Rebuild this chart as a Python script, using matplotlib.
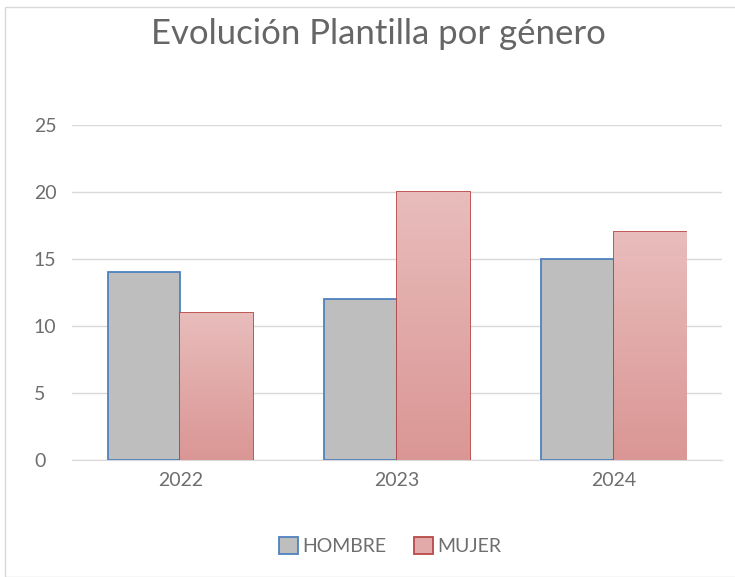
import numpy as np
import matplotlib.pyplot as plt
from matplotlib.patches import Rectangle
from matplotlib.colors import LinearSegmentedColormap

years = ["2022", "2023", "2024"]
hombre = [14, 12, 15]
mujer = [11, 20, 17]
yticks = [0, 5, 10, 15, 20, 25]

plt.rcParams['font.family'] = ['Lato', 'DejaVu Sans']
txt = '#6E6E6E'

fig = plt.figure(figsize=(7.35, 5.77), dpi=100)
fig.patches.append(Rectangle((5 / 735, 0), 1, 1 - 7 / 577, transform=fig.transFigure,
                             fill=False, edgecolor='#D9D9D9', linewidth=1))
ax = fig.add_axes([72 / 735, 1 - 460 / 577, 650 / 735, 335 / 577])

x = np.arange(len(years))
w = 0.336
b1 = ax.bar(x - w / 2, hombre, w, color='#BEBEBE', edgecolor='#4F81BD', linewidth=1.3, label='HOMBRE', zorder=3)
b2 = ax.bar(x + w / 2, mujer, w, color='#E2ABAA', edgecolor='#B84A47', linewidth=1.3, label='MUJER', zorder=3)

# vertical gradient on the MUJER bars
cmap = LinearSegmentedColormap.from_list('pink', ['#DA9694', '#E8BDBC'])
grad = np.linspace(0, 1, 256).reshape(-1, 1)
for bar in b2:
    x0, y0 = bar.get_x(), bar.get_y()
    im = ax.imshow(grad, extent=[x0, x0 + bar.get_width(), y0, y0 + bar.get_height()],
                   cmap=cmap, origin='lower', aspect='auto', zorder=3)
    im.set_clip_path(bar)

ax.set_xlim(-0.5, 2.5)
ax.set_ylim(0, 25)
ax.set_xticks(x)
ax.set_xticklabels(years)
ax.set_yticks(yticks)
ax.yaxis.grid(True, color='#D9D9D9', linewidth=1, zorder=0)
for s in ['top', 'right', 'left']:
    ax.spines[s].set_visible(False)
ax.spines['bottom'].set_color('#D9D9D9')
ax.tick_params(length=0, colors=txt, labelsize=14, pad=9)
ax.tick_params(axis='y', pad=27.4)
for lab in ax.get_yticklabels():
    lab.set_ha('left')

fig.text(378 / 735, 1 - 34 / 577, 'Evolución Plantilla por género', ha='center', va='center',
         fontsize=25, color='#666666')
fig.legend(handles=[b1, b2], loc='center', bbox_to_anchor=(390 / 735, 1 - 546 / 577), ncol=2,
           frameon=False, fontsize=14, labelcolor=txt, handlelength=1.0, handleheight=1.0,
           handletextpad=0.2, columnspacing=1.4)

fig.savefig('out.png', dpi=100, facecolor='white')
